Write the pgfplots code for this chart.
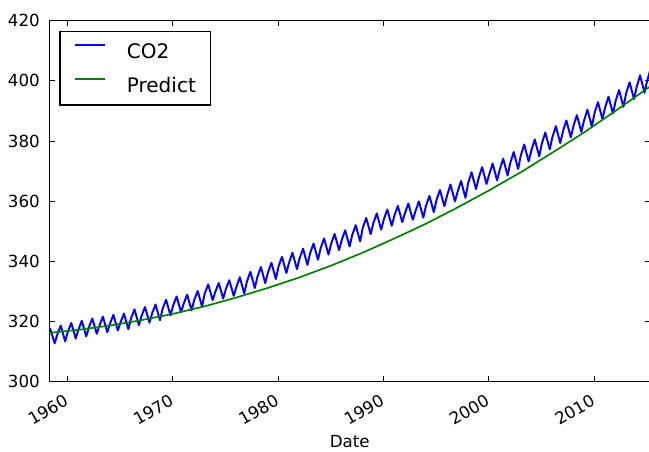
\documentclass[border=0pt]{standalone}
\usepackage{fontspec}
\setmainfont{DejaVu Sans}
\usepackage{pgfplots}
\pgfplotsset{compat=1.18}
\definecolor{mplgreen}{rgb}{0,0.5,0}
\begin{document}
\begin{tikzpicture}
\begin{axis}[
  scale only axis, width=432pt, height=259.6pt,
  xmin=1958.29, xmax=2015.32, ymin=300, ymax=420,
  xtick={1960,1970,1980,1990,2000,2010},
  xticklabels={1960,1970,1980,1990,2000,2010},
  ytick={300,320,...,420},
  tick align=inside,
  major tick length=4pt,
  every tick/.style={black, line width=0.5pt},
  axis line style={black, line width=1pt},
  /pgf/number format/assume math mode=true,
  ticklabel style={font=\fontsize{12}{14}\selectfont},
  yticklabel style={anchor=east, inner sep=0pt, text height=8.75pt, text depth=0pt, xshift=-6.7pt},
  xticklabel style={inner sep=0pt, text height=8.75pt, text depth=0pt, xshift=-2.9pt, yshift=-8.6pt, rotate=30, anchor=north east},
  xlabel={Date},
  xlabel style={font=\fontsize{12}{14}\selectfont, at={(axis description cs:0.5,0)}, anchor=base, inner sep=0pt, yshift=-47.5pt},
  legend style={at={(0,1)}, anchor=north west, xshift=7.2pt, yshift=-7.3pt, draw=black, line width=0.9pt, fill=white,
    font=\fontsize{14.4}{17}\selectfont, inner xsep=10.5pt, inner ysep=9pt, row sep=14pt, column sep=15pt,
    nodes={inner sep=0pt, text height=10.5pt, text depth=0pt}},
  legend cell align=left,
  legend image code/.code={\draw[#1, line width=1pt] (0pt,4.5pt) -- (21.6pt,4.5pt);},
]
\addplot[blue, line width=1.4pt, line join=round] coordinates {
(1958.29,317.0) (1958.37,317.6) (1958.79,312.7)
(1959.04,315.6) (1959.37,318.6) (1959.79,313.4)
(1960.04,316.5) (1960.37,319.5) (1960.79,314.3)
(1961.04,317.2) (1961.37,320.2) (1961.79,315.0)
(1962.04,318.0) (1962.37,321.0) (1962.79,315.9)
(1963.04,318.6) (1963.37,321.6) (1963.79,316.4)
(1964.04,319.2) (1964.37,322.2) (1964.79,317.0)
(1965.04,319.6) (1965.37,322.6) (1965.79,317.4)
(1966.04,321.0) (1966.37,324.0) (1966.79,318.8)
(1967.04,321.8) (1967.37,324.8) (1967.79,319.6)
(1968.04,322.6) (1968.37,325.6) (1968.79,320.4)
(1969.04,324.2) (1969.37,327.2) (1969.79,322.0)
(1970.04,325.3) (1970.37,328.3) (1970.79,323.1)
(1971.04,325.9) (1971.37,328.9) (1971.79,323.7)
(1972.04,327.1) (1972.37,330.1) (1972.79,324.9)
(1973.04,329.3) (1973.37,332.3) (1973.79,327.1)
(1974.04,329.8) (1974.37,332.8) (1974.79,327.6)
(1975.04,330.7) (1975.37,333.7) (1975.79,328.5)
(1976.04,331.4) (1976.37,334.7) (1976.79,329.3)
(1977.04,333.2) (1977.37,336.5) (1977.79,331.1)
(1978.04,334.8) (1978.37,338.1) (1978.79,332.7)
(1979.04,336.2) (1979.37,339.5) (1979.79,334.1)
(1980.04,338.2) (1980.37,341.5) (1980.79,336.1)
(1981.04,339.5) (1981.37,342.8) (1981.79,337.4)
(1982.04,340.9) (1982.37,344.2) (1982.79,338.8)
(1983.04,342.6) (1983.37,345.9) (1983.79,340.5)
(1984.04,344.3) (1984.37,347.6) (1984.79,342.2)
(1985.04,345.8) (1985.37,349.1) (1985.79,343.7)
(1986.04,347.0) (1986.37,350.3) (1986.79,344.9)
(1987.04,348.7) (1987.37,352.0) (1987.79,346.6)
(1988.04,351.1) (1988.37,354.4) (1988.79,349.0)
(1989.04,352.6) (1989.37,355.9) (1989.79,350.5)
(1990.04,353.9) (1990.37,357.2) (1990.79,351.8)
(1991.04,355.1) (1991.37,358.4) (1991.79,353.0)
(1992.04,355.9) (1992.37,359.2) (1992.79,353.8)
(1993.04,356.6) (1993.37,359.9) (1993.79,354.5)
(1994.04,358.4) (1994.37,361.7) (1994.79,356.3)
(1995.04,360.4) (1995.37,363.7) (1995.79,358.3)
(1996.04,361.8) (1996.37,365.5) (1996.79,359.9)
(1997.04,363.0) (1997.37,366.7) (1997.79,361.1)
(1998.04,365.9) (1998.37,369.6) (1998.79,364.0)
(1999.04,367.6) (1999.37,371.3) (1999.79,365.7)
(2000.04,368.8) (2000.37,372.5) (2000.79,366.9)
(2001.04,370.4) (2001.37,374.1) (2001.79,368.5)
(2002.04,372.6) (2002.37,376.3) (2002.79,370.7)
(2003.04,375.1) (2003.37,378.8) (2003.79,373.2)
(2004.04,376.8) (2004.37,380.5) (2004.79,374.9)
(2005.04,379.1) (2005.37,382.8) (2005.79,377.2)
(2006.04,381.2) (2006.37,384.9) (2006.79,379.3)
(2007.04,383.1) (2007.37,386.8) (2007.79,381.2)
(2008.04,384.9) (2008.37,388.6) (2008.79,383.0)
(2009.04,386.7) (2009.37,390.4) (2009.79,384.8)
(2010.04,389.2) (2010.37,392.9) (2010.79,387.3)
(2011.04,391.0) (2011.37,394.7) (2011.79,389.1)
(2012.04,393.2) (2012.37,396.9) (2012.79,391.3)
(2013.04,395.8) (2013.37,399.5) (2013.79,393.9)
(2014.04,397.9) (2014.37,401.8) (2014.79,396.0)
(2015.04,400.0) (2015.20,401.8) (2015.32,403.5)
};
\addlegendentry{CO2}
\addplot[mplgreen, line width=1.2pt] coordinates {
(1958.29,316.2) (1961,317.2) (1964,318.6) (1967,320.4) (1970,322.5)
(1973,325.0) (1976,327.9) (1979,331.1) (1982,334.6) (1985,338.5)
(1988,342.8) (1991,347.5) (1994,352.4) (1997,357.8) (2000,363.5)
(2003,369.5) (2006,376.0) (2009,382.7) (2012,389.9) (2015.32,398.1)
};
\addlegendentry{Predict}
\end{axis}
\pgfresetboundingbox
\path[use as bounding box] ([xshift=-35.5pt,yshift=-50.4pt]current axis.south west) rectangle ([xshift=-0.8pt,yshift=14.8pt]current axis.north east);
\end{tikzpicture}
\end{document}
